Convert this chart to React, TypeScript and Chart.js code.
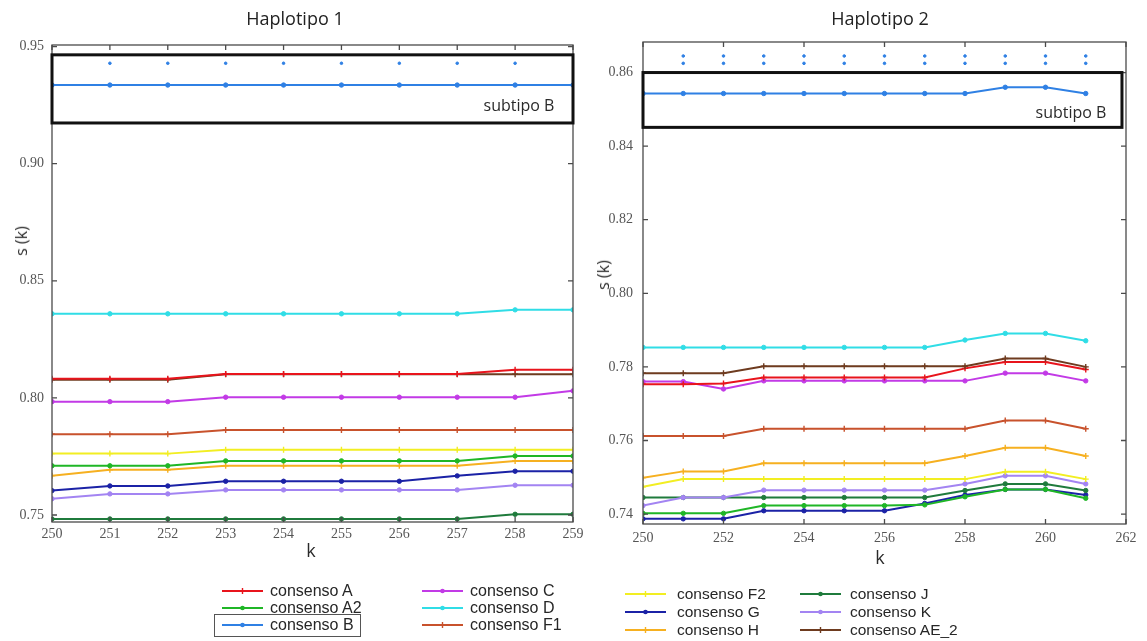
import React, { useEffect, useRef } from "react";
import { Chart, registerables } from "chart.js";
Chart.register(...registerables);

// ---------- categories ----------
const K1 = [250, 251, 252, 253, 254, 255, 256, 257, 258, 259];
const K2 = [250, 251, 252, 253, 254, 255, 256, 257, 258, 259, 260, 261];

// ---------- tick labels ----------
const X1_TICKS = [250, 251, 252, 253, 254, 255, 256, 257, 258, 259];
const Y1_TICKS = [0.75, 0.8, 0.85, 0.9, 0.95];
const X2_TICKS = [250, 252, 254, 256, 258, 260, 262];
const Y2_TICKS = [0.74, 0.76, 0.78, 0.8, 0.82, 0.84, 0.86];

// ---------- Haplotipo 1 ----------
const H1_A = [0.8082, 0.8082, 0.8082, 0.8102, 0.8102, 0.8102, 0.8102, 0.8102, 0.812, 0.812];
const H1_A2 = [0.771, 0.771, 0.771, 0.7731, 0.7731, 0.7731, 0.7731, 0.7731, 0.7752, 0.7752];
const H1_B = [0.9336, 0.9336, 0.9336, 0.9336, 0.9336, 0.9336, 0.9336, 0.9336, 0.9336, 0.9336];
const H1_B_DOTS = [null, 0.9429, 0.9429, 0.9429, 0.9429, 0.9429, 0.9429, 0.9429, 0.9429, null];
const H1_C = [0.7984, 0.7984, 0.7984, 0.8003, 0.8003, 0.8003, 0.8003, 0.8003, 0.8003, 0.803];
const H1_D = [0.8359, 0.8359, 0.8359, 0.8359, 0.8359, 0.8359, 0.8359, 0.8359, 0.8376, 0.8376];
const H1_F1 = [0.7845, 0.7845, 0.7845, 0.7863, 0.7863, 0.7863, 0.7863, 0.7863, 0.7863, 0.7863];
const H1_F2 = [0.7762, 0.7762, 0.7762, 0.7779, 0.7779, 0.7779, 0.7779, 0.7779, 0.7779, 0.7779];
const H1_G = [0.7604, 0.7624, 0.7624, 0.7644, 0.7644, 0.7644, 0.7644, 0.7667, 0.7687, 0.7687];
const H1_H = [0.7668, 0.7693, 0.7693, 0.771, 0.771, 0.771, 0.771, 0.771, 0.7731, 0.7731];
const H1_J = [0.7483, 0.7483, 0.7483, 0.7483, 0.7483, 0.7483, 0.7483, 0.7483, 0.7503, 0.7503];
const H1_K = [0.7569, 0.759, 0.759, 0.7607, 0.7607, 0.7607, 0.7607, 0.7607, 0.7627, 0.7627];
const H1_AE2 = [0.8078, 0.8078, 0.8078, 0.8101, 0.8101, 0.8101, 0.8101, 0.8101, 0.8101, 0.8101];

// ---------- Haplotipo 2 ----------
const H2_A = [0.7753, 0.7753, 0.7755, 0.7771, 0.7771, 0.7771, 0.7771, 0.7771, 0.7796, 0.7813, 0.7813, 0.7793];
const H2_A2 = [0.7402, 0.7402, 0.7402, 0.7423, 0.7423, 0.7423, 0.7423, 0.7425, 0.7447, 0.7467, 0.7467, 0.7443];
const H2_B = [0.8543, 0.8543, 0.8543, 0.8543, 0.8543, 0.8543, 0.8543, 0.8543, 0.8543, 0.856, 0.856, 0.8543];
const H2_B_DOTS_HI = [null, 0.8645, 0.8645, 0.8645, 0.8645, 0.8645, 0.8645, 0.8645, 0.8645, 0.8645, 0.8645, 0.8645];
const H2_B_DOTS_LO = [null, 0.8625, 0.8625, 0.8625, 0.8625, 0.8625, 0.8625, 0.8625, 0.8625, 0.8625, 0.8625, 0.8625];
const H2_C = [0.776, 0.776, 0.774, 0.7762, 0.7762, 0.7762, 0.7762, 0.7762, 0.7762, 0.7783, 0.7783, 0.7762];
const H2_D = [0.7853, 0.7853, 0.7853, 0.7853, 0.7853, 0.7853, 0.7853, 0.7853, 0.7873, 0.7891, 0.7891, 0.7871];
const H2_F1 = [0.7612, 0.7612, 0.7612, 0.7632, 0.7632, 0.7632, 0.7632, 0.7632, 0.7632, 0.7654, 0.7654, 0.7632];
const H2_F2 = [0.7474, 0.7495, 0.7495, 0.7495, 0.7495, 0.7495, 0.7495, 0.7495, 0.7495, 0.7515, 0.7515, 0.7495];
const H2_G = [0.7387, 0.7387, 0.7387, 0.7409, 0.7409, 0.7409, 0.7409, 0.7429, 0.7452, 0.7467, 0.7467, 0.7452];
const H2_H = [0.7499, 0.7516, 0.7516, 0.7538, 0.7538, 0.7538, 0.7538, 0.7538, 0.7558, 0.758, 0.758, 0.7558];
const H2_J = [0.7445, 0.7445, 0.7445, 0.7445, 0.7445, 0.7445, 0.7445, 0.7445, 0.7464, 0.7482, 0.7482, 0.7464];
const H2_K = [0.7423, 0.7445, 0.7445, 0.7465, 0.7465, 0.7465, 0.7465, 0.7465, 0.7482, 0.7504, 0.7504, 0.7482];
const H2_AE2 = [0.7783, 0.7783, 0.7783, 0.7802, 0.7802, 0.7802, 0.7802, 0.7802, 0.7802, 0.7823, 0.7823, 0.78];

// ---------- series styles ----------
const C_A = "#e8141c";
const C_A2 = "#1fb626";
const C_B = "#2f80e4";
const C_C = "#c23ae6";
const C_D = "#30dde6";
const C_F1 = "#c8522c";
const C_F2 = "#f2ee22";
const C_G = "#1b22a6";
const C_H = "#f6b020";
const C_J = "#1f7b3c";
const C_K = "#a384f2";
const C_AE2 = "#6e3b1f";

const LEGEND_LEFT_1 = [
  { label: "consenso A", color: C_A, mark: "plus" },
  { label: "consenso A2", color: C_A2, mark: "dot" },
  { label: "consenso B", color: C_B, mark: "dot" },
];
const LEGEND_LEFT_2 = [
  { label: "consenso C", color: C_C, mark: "dot" },
  { label: "consenso D", color: C_D, mark: "dot" },
  { label: "consenso F1", color: C_F1, mark: "plus" },
];
const LEGEND_RIGHT_1 = [
  { label: "consenso F2", color: C_F2, mark: "plus" },
  { label: "consenso G", color: C_G, mark: "dot" },
  { label: "consenso H", color: C_H, mark: "plus" },
];
const LEGEND_RIGHT_2 = [
  { label: "consenso J", color: C_J, mark: "dot" },
  { label: "consenso K", color: C_K, mark: "dot" },
  { label: "consenso AE_2", color: C_AE2, mark: "plus" },
];

function ds(xs: number[], ys: (number | null)[], label: string, color: string, mark: string, line = true) {
  return {
    label,
    data: xs.map((x, i) => ({ x, y: ys[i] })),
    borderColor: color,
    backgroundColor: color,
    borderWidth: 2,
    showLine: line,
    pointStyle: mark === "plus" ? "cross" : "circle",
    pointRadius: line ? (mark === "plus" ? 3 : 2.2) : 1.3,
    pointBorderWidth: mark === "plus" ? 1.4 : 1,
    tension: 0,
  };
}

const framePlugin = {
  id: "frame",
  afterDraw(chart: any, _args: any, opts: any) {
    const { ctx, chartArea } = chart;
    const { left, right, top, bottom } = chartArea;
    const xs = chart.scales.x;
    const ys = chart.scales.y;
    ctx.save();
    ctx.strokeStyle = "#4a4a4a";
    ctx.lineWidth = 1.3;
    ctx.strokeRect(left, top, right - left, bottom - top);
    const tl = 5;
    ctx.beginPath();
    xs.ticks.forEach((t: any) => {
      const px = xs.getPixelForValue(t.value);
      ctx.moveTo(px, bottom);
      ctx.lineTo(px, bottom - tl);
      ctx.moveTo(px, top);
      ctx.lineTo(px, top + tl);
    });
    ys.ticks.forEach((t: any) => {
      const py = ys.getPixelForValue(t.value);
      ctx.moveTo(left, py);
      ctx.lineTo(left + tl, py);
      ctx.moveTo(right, py);
      ctx.lineTo(right - tl, py);
    });
    ctx.stroke();
    const b = opts && opts.box;
    if (b) {
      const x0 = xs.getPixelForValue(b.x0);
      const x1 = xs.getPixelForValue(b.x1);
      const y0 = ys.getPixelForValue(b.y0);
      const y1 = ys.getPixelForValue(b.y1);
      ctx.strokeStyle = "#111";
      ctx.lineWidth = 3;
      ctx.strokeRect(x0, y1, x1 - x0, y0 - y1);
    }
    ctx.restore();
  },
};

const TICK_FONT = { family: "Liberation Serif", size: 14, style: "normal", weight: "normal" };

function makeConfig(p: any) {
  return {
    type: "line",
    data: { datasets: p.datasets },
    options: {
      animation: false,
      responsive: false,
      maintainAspectRatio: false,
      layout: { padding: { top: p.padTop, right: p.padRight, left: 0, bottom: 0 } },
      plugins: {
        legend: { display: false },
        tooltip: { enabled: false },
        title: { display: false },
        frame: { box: p.box },
      },
      scales: {
        x: {
          type: "linear",
          min: p.xMin,
          max: p.xMax,
          grid: { display: false, drawTicks: false },
          border: { display: false },
          ticks: { padding: p.xPad, font: TICK_FONT, color: "#555", callback: (v: any) => String(v) },
          afterBuildTicks: (s: any) => {
            s.ticks = p.xTicks.map((v: number) => ({ value: v }));
          },
          afterFit: (s: any) => {
            s.height = p.xH;
          },
        },
        y: {
          type: "linear",
          min: p.yMin,
          max: p.yMax,
          grid: { display: false, drawTicks: false },
          border: { display: false },
          ticks: { padding: p.yPad, font: TICK_FONT, color: "#555", callback: (v: any) => Number(v).toFixed(2) },
          afterBuildTicks: (s: any) => {
            s.ticks = p.yTicks.map((v: number) => ({ value: v }));
          },
          afterFit: (s: any) => {
            s.width = p.yW;
          },
        },
      },
    },
    plugins: [framePlugin],
  };
}

function ChartCanvas(props: { config: any; left: number; top: number; width: number; height: number }) {
  const ref = useRef<HTMLCanvasElement | null>(null);
  useEffect(() => {
    if (!ref.current) return;
    const chart = new Chart(ref.current, props.config);
    return () => chart.destroy();
  }, []);
  return (
    <canvas
      ref={ref}
      width={props.width}
      height={props.height}
      style={{ position: "absolute", left: props.left, top: props.top, width: props.width, height: props.height }}
    />
  );
}

function Label(props: { x: number; y: number; text: string; size: number; rotate?: boolean; weight?: number; family?: string; color?: string }) {
  return (
    <div
      style={{
        position: "absolute",
        left: props.x,
        top: props.y,
        transform: `translate(-50%, -50%)${props.rotate ? " rotate(-90deg)" : ""}`,
        whiteSpace: "nowrap",
        lineHeight: 1,
        fontFamily: props.family || "'Open Sans', sans-serif",
        fontSize: props.size,
        fontWeight: props.weight || 400,
        color: props.color || "#2a2a2a",
      }}
    >
      {props.text}
    </div>
  );
}

function Swatch(props: { color: string; mark: string }) {
  return (
    <svg width={41} height={10} style={{ display: "block" }}>
      <line x1={0} y1={5} x2={41} y2={5} stroke={props.color} strokeWidth={2} />
      {props.mark === "dot" ? (
        <circle cx={20.5} cy={5} r={2.3} fill={props.color} />
      ) : (
        <line x1={20.5} y1={2} x2={20.5} y2={8} stroke={props.color} strokeWidth={1.4} />
      )}
    </svg>
  );
}

function LegendCol(props: { items: any[]; x: number; textX: number; ys: number[]; size: number }) {
  return (
    <>
      {props.items.map((it, i) => (
        <React.Fragment key={it.label}>
          <div style={{ position: "absolute", left: props.x, top: props.ys[i] - 5 }}>
            <Swatch color={it.color} mark={it.mark} />
          </div>
          <div
            style={{
              position: "absolute",
              left: props.textX,
              top: props.ys[i],
              transform: "translateY(-50%)",
              fontFamily: "'Liberation Sans', Arial, sans-serif",
              fontSize: props.size,
              lineHeight: 1,
              whiteSpace: "nowrap",
              color: "#262626",
            }}
          >
            {it.label}
          </div>
        </React.Fragment>
      ))}
    </>
  );
}

export default function App() {
  // Chart.js draws the first dataset on top, so the topmost series come first.
  const left = makeConfig({
    datasets: [
      ds(K1, H1_B_DOTS, "consenso B (dots)", C_B, "dot", false),
      ds(K1, H1_B, "consenso B", C_B, "dot"),
      ds(K1, H1_D, "consenso D", C_D, "dot"),
      ds(K1, H1_A, "consenso A", C_A, "plus"),
      ds(K1, H1_AE2, "consenso AE_2", C_AE2, "plus"),
      ds(K1, H1_C, "consenso C", C_C, "dot"),
      ds(K1, H1_F1, "consenso F1", C_F1, "plus"),
      ds(K1, H1_F2, "consenso F2", C_F2, "plus"),
      ds(K1, H1_A2, "consenso A2", C_A2, "dot"),
      ds(K1, H1_H, "consenso H", C_H, "plus"),
      ds(K1, H1_G, "consenso G", C_G, "dot"),
      ds(K1, H1_K, "consenso K", C_K, "dot"),
      ds(K1, H1_J, "consenso J", C_J, "dot"),
    ],
    padTop: 45,
    padRight: 17,
    xMin: 250,
    xMax: 259,
    yMin: 0.747,
    yMax: 0.9507,
    xTicks: X1_TICKS,
    yTicks: Y1_TICKS,
    xPad: 4,
    yPad: 8,
    xH: 38,
    yW: 52,
    box: { x0: 250, x1: 259, y0: 0.9174, y1: 0.9465 },
  });
  const right = makeConfig({
    datasets: [
      ds(K2, H2_B_DOTS_HI, "consenso B (dots hi)", C_B, "dot", false),
      ds(K2, H2_B_DOTS_LO, "consenso B (dots lo)", C_B, "dot", false),
      ds(K2, H2_B, "consenso B", C_B, "dot"),
      ds(K2, H2_D, "consenso D", C_D, "dot"),
      ds(K2, H2_AE2, "consenso AE_2", C_AE2, "plus"),
      ds(K2, H2_A, "consenso A", C_A, "plus"),
      ds(K2, H2_C, "consenso C", C_C, "dot"),
      ds(K2, H2_F1, "consenso F1", C_F1, "plus"),
      ds(K2, H2_H, "consenso H", C_H, "plus"),
      ds(K2, H2_F2, "consenso F2", C_F2, "plus"),
      ds(K2, H2_K, "consenso K", C_K, "dot"),
      ds(K2, H2_J, "consenso J", C_J, "dot"),
      ds(K2, H2_A2, "consenso A2", C_A2, "dot"),
      ds(K2, H2_G, "consenso G", C_G, "dot"),
    ],
    padTop: 42,
    padRight: 21,
    xMin: 250,
    xMax: 262,
    yMin: 0.7373,
    yMax: 0.8683,
    xTicks: X2_TICKS,
    yTicks: Y2_TICKS,
    xPad: 6,
    yPad: 10,
    xH: 36,
    yW: 53,
    box: { x0: 250, x1: 261.9, y0: 0.8451, y1: 0.86 },
  });

  return (
    <div style={{ position: "absolute", left: 0, top: 0, width: 1147, height: 641, background: "#fff", overflow: "hidden" }}>
      <ChartCanvas config={left} left={0} top={0} width={590} height={560} />
      <ChartCanvas config={right} left={590} top={0} width={557} height={560} />

      <Label x={295} y={18} text="Haplotipo 1" size={18} color="#222" />
      <Label x={880} y={18} text="Haplotipo 2" size={18} color="#222" />
      <Label x={21} y={241} text="s (k)" size={16} rotate />
      <Label x={603} y={275} text="s (k)" size={16} rotate />
      <Label x={311} y={550} text="k" size={18} />
      <Label x={880} y={557} text="k" size={18} />
      <Label x={519} y={105} text="subtipo B" size={16} />
      <Label x={1071} y={112} text="subtipo B" size={16} />

      <LegendCol items={LEGEND_LEFT_1} x={222} textX={270} ys={[591, 608, 625]} size={16} />
      <LegendCol items={LEGEND_LEFT_2} x={422} textX={470} ys={[591, 608, 625]} size={16} />
      <div style={{ position: "absolute", left: 214, top: 614, width: 147, height: 23, border: "1.5px solid #555", boxSizing: "border-box" }} />
      <LegendCol items={LEGEND_RIGHT_1} x={625} textX={677} ys={[594, 612, 630]} size={15.5} />
      <LegendCol items={LEGEND_RIGHT_2} x={800} textX={850} ys={[594, 612, 630]} size={15.5} />
    </div>
  );
}
